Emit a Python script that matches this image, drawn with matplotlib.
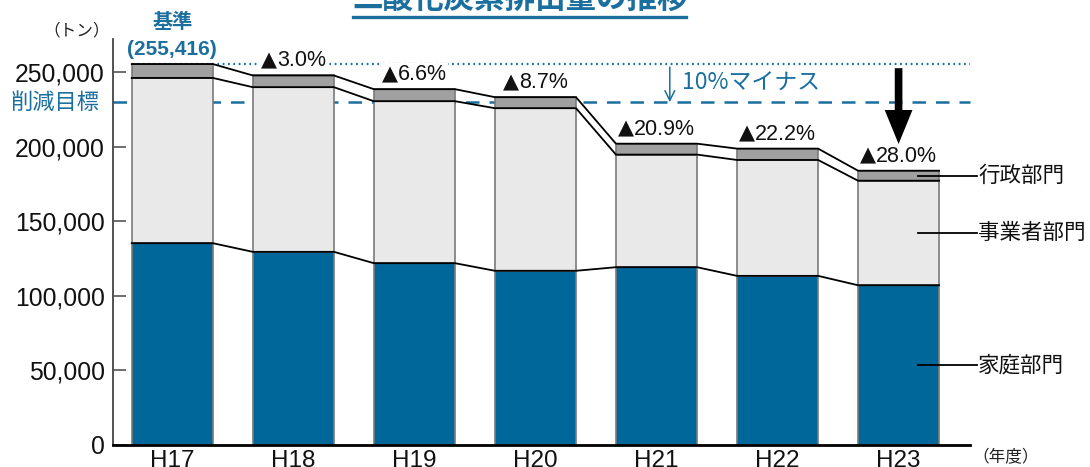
import matplotlib
matplotlib.use("Agg")
import matplotlib.pyplot as plt
from matplotlib.lines import Line2D
from matplotlib.offsetbox import TextArea, HPacker, AnnotationBbox
import numpy as np

# ---- data ----
years = ["H17", "H18", "H19", "H20", "H21", "H22", "H23"]
household = [135300, 129500, 121900, 116800, 119200, 113400, 107100]   # 家庭部門
business = [110800, 110400, 108600, 109000, 75500, 77700, 70100]       # 事業者部門
admin = [9316, 7853, 8059, 7395, 7324, 7614, 6700]                     # 行政部門
reduction_labels = ["", "▲3.0%", "▲6.6%", "▲8.7%", "▲20.9%", "▲22.2%", "▲28.0%"]
base_value = 255416
target_ratio = 0.9
yticks = [0, 50000, 100000, 150000, 200000, 250000]
ytick_labels = ["0", "50,000", "100,000", "150,000", "200,000", "250,000"]
series_names = ["家庭部門", "事業者部門", "行政部門"]

# ---- style ----
C_HOUSE = "#00679a"
C_BUS = "#e8e9e8"
C_ADM = "#a0a0a0"
C_BLUE = "#1a6f9e"
JP = ["Noto Sans CJK JP", "DejaVu Sans"]
NUM = ["Liberation Sans", "DejaVu Sans"]

W, H = 1090, 467
fig = plt.figure(figsize=(W / 100, H / 100), dpi=100)
ax = fig.add_axes([113 / W, 1 - 445 / H, (970 - 113) / W, (445 - 39) / H])

x = np.arange(len(years))
hh = np.array(household, float)
bb = np.array(business, float)
aa = np.array(admin, float)
lvl1 = hh
lvl2 = hh + bb
tot = hh + bb + aa
bw = 0.67

edge = dict(edgecolor="#7a7a7a", linewidth=1.2, zorder=3)
ax.bar(x, hh, bw, color=C_HOUSE, **edge)
ax.bar(x, bb, bw, bottom=lvl1, color=C_BUS, **edge)
ax.bar(x, aa, bw, bottom=lvl2, color=C_ADM, **edge)

# connecting lines
xs = np.ravel(np.column_stack([x - bw / 2, x + bw / 2]))
for lv in (lvl1, lvl2, tot):
    ys = np.repeat(lv, 2)
    ax.plot(xs, ys, color="black", lw=1.3, zorder=4, solid_joinstyle="miter")

ax.set_xlim(-0.49, 6.59)
ax.set_ylim(0, 272200)

# reference lines
target = base_value * target_ratio
ax.plot([-0.335, 6.59], [base_value, base_value], color=C_BLUE, lw=1.6,
        linestyle=(0, (0.8, 1.6)), zorder=2, clip_on=False)
ax.plot([-0.49, 6.59], [target, target], color=C_BLUE, lw=1.8,
        linestyle=(0, (5.4, 4.0)), zorder=1, clip_on=False)

# axes styling
for s in ("top", "right"):
    ax.spines[s].set_visible(False)
ax.spines["left"].set_color("#444444")
ax.spines["left"].set_linewidth(1.3)
ax.spines["bottom"].set_color("black")
ax.spines["bottom"].set_linewidth(2.0)
ax.spines["bottom"].set_zorder(5)
ax.set_yticks(yticks)
ax.set_yticklabels(ytick_labels, fontsize=17.8, family=NUM, color="#111111")
ax.tick_params(axis="y", direction="in", length=9, width=1.2, color="#555555", pad=6)
ax.set_xticks(x)
ax.set_xticklabels(years, fontsize=17.5, family=NUM, color="#111111")
ax.tick_params(axis="x", length=0, pad=3.5)

# reduction labels (▲ drawn in DejaVu Sans for a full-size triangle)
for xi, t, lab in zip(x, tot, reduction_labels):
    if lab:
        box = HPacker(children=[
            TextArea(lab[0], textprops=dict(family="DejaVu Sans", fontsize=15, color="#111111")),
            TextArea(lab[1:], textprops=dict(family=NUM, fontsize=15.5, color="#111111")),
        ], align="baseline", pad=0, sep=0)
        ab = AnnotationBbox(box, (xi, t), xybox=(0, 10.5), xycoords="data",
                            boxcoords="offset points", box_alignment=(0.5, 0.5),
                            frameon=True, pad=0.15,
                            bboxprops=dict(fc="white", ec="none", boxstyle="square,pad=0.1"),
                            zorder=6, annotation_clip=False)
        ax.add_artist(ab)

# base annotation
ax.annotate("(255,416)", (0, base_value), xytext=(0, 10.8), textcoords="offset points",
            ha="center", va="center", fontsize=15, family=NUM, weight="bold",
            color=C_BLUE, annotation_clip=False)
ax.annotate("基準", (0, base_value), xytext=(0, 30.5), textcoords="offset points",
            ha="center", va="center", fontsize=14.5, family=JP, weight="bold",
            color=C_BLUE, annotation_clip=False)

# target label
ax.annotate("削減目標", (0, target), xycoords=("axes fraction", "data"),
            xytext=(-9.5, 0), textcoords="offset points", ha="right", va="center",
            fontsize=16, family=JP, color=C_BLUE, annotation_clip=False)

# "↓10%マイナス"
ax.annotate("", xy=(4.11, target), xytext=(4.11, base_value * 0.992),
            arrowprops=dict(arrowstyle="->,head_width=0.35,head_length=0.7",
                            color=C_BLUE, lw=1.1, shrinkA=0, shrinkB=0), zorder=6)
ax.text(4.21, (base_value + target) / 2, "10%マイナス", ha="left", va="center",
        fontsize=16.5, family=JP, color=C_BLUE, zorder=6)

# big black arrow
ax.annotate("", xy=(6, tot[-1] + 17900), xytext=(6, base_value - 2800),
            arrowprops=dict(arrowstyle="simple,head_width=2.0,head_length=2.45,tail_width=0.55",
                            mutation_scale=10, color="black", lw=0, shrinkA=0, shrinkB=0),
            zorder=7, annotation_clip=False)

# series labels at the right
mids = [(lvl2[-1] + tot[-1]) / 2, (lvl1[-1] + lvl2[-1]) / 2, lvl1[-1] / 2]
for name, ym in zip(["行政部門", "事業者部門", "家庭部門"], mids):
    ax.plot([6.161, 6.649], [ym, ym], color="black", lw=1.3, zorder=6, clip_on=False)
    ax.text(6.657, ym, name, ha="left", va="center", fontsize=15.5, family=JP,
            color="#111111", clip_on=False)

# unit labels
fig.text(77 / W, 1 - 31 / H, "（トン）", ha="center", va="center", fontsize=12,
         family=JP, color="#222222")
fig.text(972 / W, 1 - 458 / H, "（年度）", ha="left", va="center", fontsize=12,
         family=JP, color="#222222")

# title (cut at top) with underline
fig.text(520 / W, 1 - 8 / H, "二酸化炭素排出量の推移", ha="center", va="baseline",
         fontsize=22, family=JP, weight="bold", color=C_BLUE)
fig.add_artist(Line2D([353 / W, 686 / W], [1 - 17 / H] * 2, lw=2.4, color=C_BLUE))

fig.savefig("out.png", dpi=100)
